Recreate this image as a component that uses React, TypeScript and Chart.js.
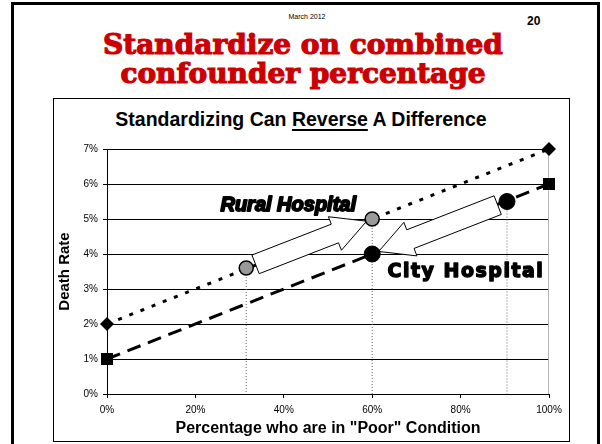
import React, { useEffect, useRef } from "react";
import { Chart, registerables } from "chart.js";

Chart.register(...registerables);

// ---- data ----
const xTicks = [0, 20, 40, 60, 80, 100];
const yTicks = [0, 1, 2, 3, 4, 5, 6, 7];
const lineX = [0, 100];
const ruralLineY = [2, 7];
const cityLineY = [1, 6];
const ruralX = [31.5, 60];
const ruralY = [3.6, 5.0];
const cityX = [60, 90.5];
const cityY = [4.0, 5.5];
const ruralLabel = "Rural Hospital";
const cityLabel = "City Hospital";
const ruralLabelPos = [41, 5.4];
const cityLabelPos = [81.2, 3.49];

function blockArrow(
  ctx: CanvasRenderingContext2D,
  x1: number, y1: number, x2: number, y2: number,
  gapStart: number, gapEnd: number, bodyHalf: number, headHalf: number, headLen: number
) {
  const dx = x2 - x1, dy = y2 - y1;
  const L = Math.hypot(dx, dy);
  const ux = dx / L, uy = dy / L;
  const nx = -uy, ny = ux;
  const sx = x1 + ux * gapStart, sy = y1 + uy * gapStart;
  const tx = x2 - ux * gapEnd, ty = y2 - uy * gapEnd;
  const bx = tx - ux * headLen, by = ty - uy * headLen;
  ctx.beginPath();
  ctx.moveTo(sx + nx * bodyHalf, sy + ny * bodyHalf);
  ctx.lineTo(bx + nx * bodyHalf, by + ny * bodyHalf);
  ctx.lineTo(bx + nx * headHalf, by + ny * headHalf);
  ctx.lineTo(tx, ty);
  ctx.lineTo(bx - nx * headHalf, by - ny * headHalf);
  ctx.lineTo(bx - nx * bodyHalf, by - ny * bodyHalf);
  ctx.lineTo(sx - nx * bodyHalf, sy - ny * bodyHalf);
  ctx.closePath();
  ctx.fillStyle = "#ffffff";
  ctx.fill();
  ctx.strokeStyle = "#000000";
  ctx.lineWidth = 1;
  ctx.stroke();
}

const annotPlugin = {
  id: "annot",
  beforeDatasetDraw(chart: any, args: any) {
    if (args.index !== 1) return;
    const { ctx, scales } = chart;
    const xs = scales.x, ys = scales.y;
    ctx.save();
    blockArrow(
      ctx,
      xs.getPixelForValue(ruralX[0]), ys.getPixelForValue(ruralY[0]),
      xs.getPixelForValue(ruralX[1]), ys.getPixelForValue(ruralY[1]),
      10, 6, 10, 18, 34
    );
    blockArrow(
      ctx,
      xs.getPixelForValue(cityX[1]), ys.getPixelForValue(cityY[1]),
      xs.getPixelForValue(cityX[0]), ys.getPixelForValue(cityY[0]),
      10, 7, 10, 18, 34
    );
    ctx.restore();
  },
  afterDatasetsDraw(chart: any) {
    const { ctx, scales } = chart;
    const xs = scales.x, ys = scales.y;
    ctx.save();
    ctx.textAlign = "center";
    ctx.textBaseline = "middle";
    ctx.fillStyle = "#000";
    ctx.strokeStyle = "#000";
    ctx.lineJoin = "round";
    ctx.font = 'italic bold 20px "Liberation Sans"';
    ctx.lineWidth = 1.8;
    let px = xs.getPixelForValue(ruralLabelPos[0]);
    let py = ys.getPixelForValue(ruralLabelPos[1]);
    ctx.fillText(ruralLabel, px, py);
    ctx.strokeText(ruralLabel, px, py);
    ctx.font = 'bold 19px "DejaVu Sans"';
    (ctx as any).letterSpacing = "1.5px";
    ctx.lineWidth = 1.4;
    px = xs.getPixelForValue(cityLabelPos[0]);
    py = ys.getPixelForValue(cityLabelPos[1]);
    ctx.fillText(cityLabel, px, py);
    ctx.strokeText(cityLabel, px, py);
    (ctx as any).letterSpacing = "0px";
    ctx.restore();
  },
};

export default function App() {
  const ref = useRef<HTMLCanvasElement | null>(null);

  useEffect(() => {
    if (!ref.current) return;
    const dropLines: any[] = [];
    const drops: [number, number, boolean][] = [
      [ruralX[0], ruralY[0], true],
      [ruralX[1], ruralY[1], true],
      [cityX[1], cityY[1], true],
      [lineX[1], ruralLineY[1], false],
    ];
    drops.forEach(([x, y, dotted]) => {
      dropLines.push({
        data: [{ x, y }, { x, y: 0 }],
        showLine: true,
        borderColor: dotted ? "#666" : "#aaa",
        borderWidth: 1,
        borderDash: dotted ? [1, 2] : [],
        pointRadius: 0,
      });
    });

    const chart = new Chart(ref.current, {
      type: "scatter",
      data: {
        datasets: [
          {
            data: cityX.map((x, i) => ({ x, y: cityY[i] })),
            backgroundColor: "#000",
            borderColor: "#000",
            pointRadius: 8,
            pointBorderWidth: 1,
            showLine: false,
            clip: false,
          },
          {
            data: ruralX.map((x, i) => ({ x, y: ruralY[i] })),
            backgroundColor: "#999999",
            borderColor: "#000",
            pointRadius: 7,
            pointBorderWidth: 1.5,
            showLine: false,
            clip: false,
          },
          {
            data: lineX.map((x, i) => ({ x, y: ruralLineY[i] })),
            showLine: true,
            borderColor: "#000",
            borderWidth: 3,
            borderDash: [4, 8],
            pointStyle: "rectRot",
            pointRadius: 7,
            backgroundColor: "#000",
            pointBorderWidth: 0,
            clip: false,
          },
          {
            data: lineX.map((x, i) => ({ x, y: cityLineY[i] })),
            showLine: true,
            borderColor: "#000",
            borderWidth: 3,
            borderDash: [14, 8],
            pointStyle: "rect",
            pointRadius: 8.5,
            backgroundColor: "#000",
            pointBorderWidth: 0,
            clip: false,
          },
          ...dropLines,
        ],
      },
      options: {
        animation: false,
        responsive: false,
        devicePixelRatio: 1,
        layout: { padding: { top: 50, right: 19, left: 0, bottom: 0 } },
        plugins: { legend: { display: false }, tooltip: { enabled: false }, title: { display: false } },
        scales: {
          x: {
            type: "linear",
            min: 0,
            max: 100,
            afterBuildTicks: (s: any) => { s.ticks = xTicks.map((v) => ({ value: v })); },
            afterFit: (s: any) => { s.height = 46; },
            ticks: {
              callback: (v: any) => v + "%",
              font: { family: '"Liberation Sans"', size: 10 },
              color: "#000",
              padding: 6,
              maxRotation: 0,
            },
            grid: { drawOnChartArea: false, drawTicks: true, tickLength: 4, color: "#000" },
            border: { color: "#000", width: 1 },
            title: {
              display: true,
              text: 'Percentage who are in "Poor" Condition',
              font: { family: '"Liberation Sans"', size: 16, weight: "bold" },
              color: "#000",
              padding: { top: 0, bottom: 2 },
            },
          },
          y: {
            type: "linear",
            min: 0,
            max: 7,
            afterBuildTicks: (s: any) => { s.ticks = yTicks.map((v) => ({ value: v })); },
            afterFit: (s: any) => { s.width = 53; },
            ticks: {
              callback: (v: any) => v + "%",
              font: { family: '"Liberation Sans"', size: 10 },
              color: "#000",
              padding: 5,
            },
            grid: { color: "#000", lineWidth: 1, tickLength: 4 },
            border: { color: "#000", width: 1 },
            title: {
              display: true,
              text: "Death Rate",
              font: { family: '"Liberation Sans"', size: 15, weight: "bold" },
              color: "#000",
              padding: { top: 2, bottom: 0 },
            },
          },
        },
      },
      plugins: [annotPlugin],
    } as any);
    return () => chart.destroy();
  }, []);

  return (
    <div
      style={{
        position: "fixed",
        left: 0,
        top: 0,
        width: 602,
        height: 444,
        overflow: "hidden",
        background: "#fff",
        fontFamily: '"Liberation Sans", Arial, sans-serif',
      }}
    >
      <div
        style={{
          position: "absolute",
          left: 11,
          top: 2,
          width: 589,
          height: 470,
          border: "3px solid #000",
          boxSizing: "border-box",
        }}
      />
      <div style={{ position: "absolute", left: 270, top: 12, width: 74, textAlign: "center", fontSize: 7, lineHeight: "9px", color: "#000" }}>
        March 2012
      </div>
      <div style={{ position: "absolute", left: 527, top: 14, fontSize: 12, fontWeight: "bold", lineHeight: "14px" }}>20</div>
      <div
        style={{
          position: "absolute",
          left: 0,
          top: 30,
          width: 606,
          textAlign: "center",
          fontFamily: '"DejaVu Serif", serif',
          fontWeight: "bold",
          fontSize: 28,
          lineHeight: "29px",
          color: "#cc0000",
          WebkitTextStroke: "1.2px #cc0000",
        }}
      >
        Standardize on combined
        <br />
        confounder percentage
      </div>
      <div
        style={{
          position: "absolute",
          left: 53,
          top: 98,
          width: 517,
          height: 344,
          border: "1px solid #000",
          boxSizing: "border-box",
        }}
      />
      <div
        style={{
          position: "absolute",
          left: 43,
          top: 108,
          width: 516,
          textAlign: "center",
          fontSize: 19.5,
          fontWeight: "bold",
          lineHeight: "22px",
          color: "#000",
        }}
      >
        Standardizing Can{" "}
        <span style={{ textDecoration: "underline", textDecorationThickness: 2, textUnderlineOffset: 3 }}>Reverse</span> A
        Difference
      </div>
      <canvas
        ref={ref}
        width={514}
        height={341}
        style={{ position: "absolute", left: 54, top: 99, width: 514, height: 341 }}
      />
    </div>
  );
}
